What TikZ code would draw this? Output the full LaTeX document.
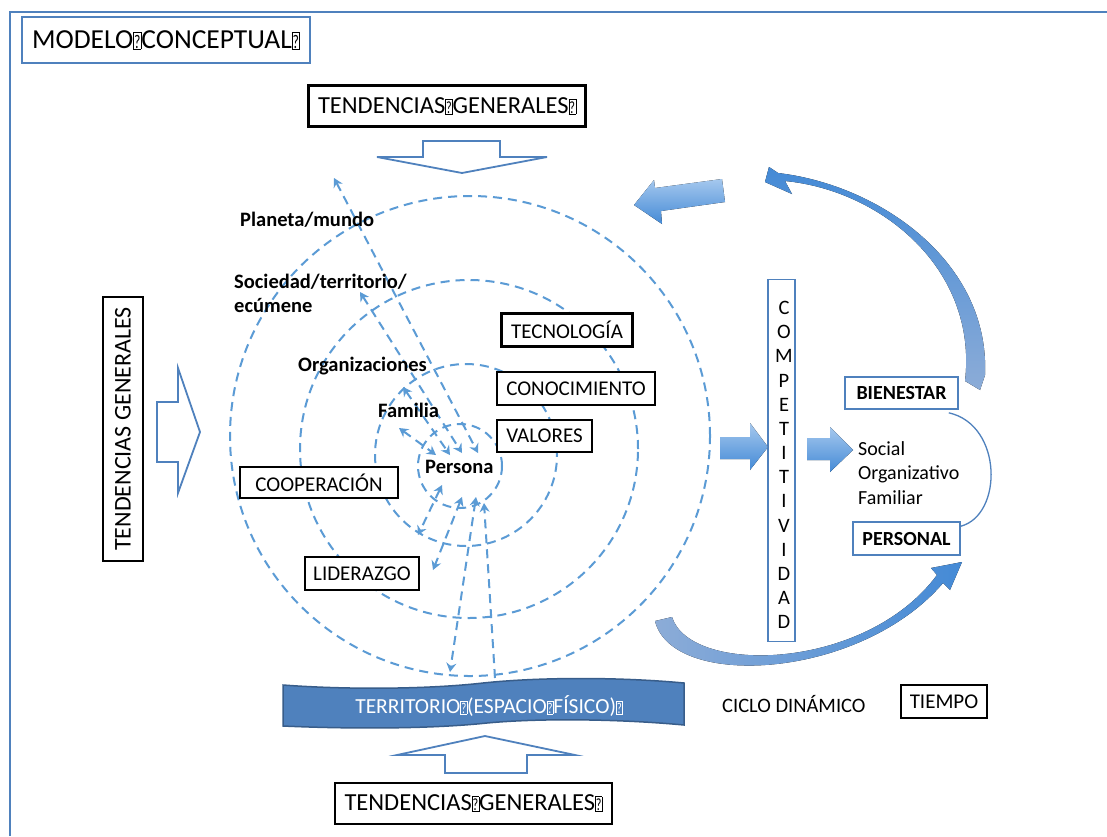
\documentclass[tikz,border=0pt]{standalone}
\usepackage{fontspec}
\usepackage{graphicx}
\setmainfont{Carlito}
\usetikzlibrary{arrows.meta}
\definecolor{dashblue}{RGB}{91,155,213}
\definecolor{frameblue}{RGB}{79,129,189}
\definecolor{terrdraw}{RGB}{56,93,138}
\definecolor{arrlight}{RGB}{165,200,238}
\definecolor{arrdark}{RGB}{68,138,214}
\definecolor{arrgray}{RGB}{140,172,215}
\newcommand{\qb}{{\setlength{\fboxsep}{0.4pt}\setlength{\fboxrule}{0.45pt}\fbox{\rule{0pt}{0.56em}\scalebox{0.5}[0.7]{?}}}}
\begin{document}
\begin{tikzpicture}[x=1pt,y=-1pt,
  bbox/.style={draw=black, line width=2.1pt, fill=white, inner sep=0pt, font=\fontsize{21}{25}\selectfont},
  blbox/.style={draw=frameblue, line width=1.6pt, fill=white, inner sep=0pt},
  lbl/.style={font=\bfseries\fontsize{20.5}{24}\selectfont, inner sep=0pt, anchor=west},
  dl/.style={dashblue, line width=2pt, dash pattern=on 9pt off 6pt},
  tip/.tip={Stealth[length=9pt,width=10pt,inset=3pt]},
  da/.style={dl, tip-tip},
  hollow/.style={draw=frameblue, line width=1.8pt, fill=white, line join=miter},
  blockarr/.style={top color=arrlight, bottom color=arrdark, draw=none}
]
\useasboundingbox (0,0) rectangle (1107,836);
\fill[white] (0,0) rectangle (1107,836);
\draw[frameblue, line width=1.5pt] (10,836) -- (10,12) -- (1107,12);

% title
\node[blbox, line width=2.3pt, minimum width=288pt, minimum height=46pt,
      font=\fontsize{27.5}{31}\selectfont] (title) at (166,40) {MODELO\qb CONCEPTUAL\qb};

% tendencias boxes
\node[bbox, font=\fontsize{24.5}{28}\selectfont, minimum width=277pt, minimum height=41pt] (tgtop) at (447,106) {TENDENCIAS\qb GENERALES\qb};
\node[bbox, font=\fontsize{24}{28}\selectfont, minimum width=264pt, minimum height=40pt, rotate=90] (tgleft) at (123,429) {TENDENCIAS GENERALES};
\node[bbox, font=\fontsize{24.5}{28}\selectfont, minimum width=277pt, minimum height=41pt] (tgbot) at (473.5,803.5) {TENDENCIAS\qb GENERALES\qb};

% hollow arrows
\draw[hollow] (423,141) -- (500,141) -- (500,157) -- (547,157) -- (462,173) -- (377,157) -- (423,157) -- cycle;
\draw[hollow] (157,402) -- (178,402) -- (178,368) -- (200,432) -- (178,493) -- (178,462) -- (157,462) -- cycle;
\draw[hollow] (445,773) -- (527,773) -- (527,755) -- (575,755) -- (485,736) -- (397,755) -- (445,755) -- cycle;

% circles
\draw[dl] (470,436) circle[radius=240pt];
\draw[dl] (469,449) circle[radius=169pt];
\draw[dl] (466,455) circle[radius=91pt];
\draw[dl] (460,466) circle[radius=42pt];

% dashed arrows
\coordinate (a1) at (334,178); \coordinate (b1) at (478,453);
\coordinate (a2) at (360,292); \coordinate (b2) at (462,453);
\coordinate (a3) at (403,387); \coordinate (b3) at (450,455);
\coordinate (a4) at (399,428); \coordinate (b4) at (436,455);
\coordinate (c1) at (442,485); \coordinate (d1) at (418,535);
\coordinate (c2) at (462,497); \coordinate (d2) at (433,570);
\coordinate (c3) at (476,497); \coordinate (d3) at (450,672);
\coordinate (c4) at (484,503); \coordinate (d4) at (495,678);
\draw[da] (a1) -- (b1);
\draw[da] (a2) -- (b2);
\draw[da] (a3) -- (b3);
\draw[da] (a4) -- (b4);
\draw[da] (c1) -- (d1);
\draw[da] (c2) -- (d2);
\draw[da] (c3) -- (d3);
\draw[dl, -tip] (d4) -- (c4);

% level labels
\node[lbl] (planeta) at (240,220) {Planeta/mundo};
\node[lbl, align=left] (sociedad) at (234,293) {Sociedad/territorio/\\ecúmene};
\node[lbl] (org) at (298,366) {Organizaciones};
\node[lbl] (fam) at (378,410) {Familia};
\node[lbl] (persona) at (425,467) {Persona};

% value boxes
\node[bbox, minimum width=131pt, minimum height=33pt] (tec) at (567,330) {TECNOLOGÍA};
\node[bbox, minimum width=158pt, minimum height=33pt] (con) at (576,388.5) {CONOCIMIENTO};
\node[bbox, minimum width=95pt, minimum height=32pt] (val) at (544.5,436) {VALORES};
\node[bbox, minimum width=158pt, minimum height=31pt] (coop) at (319,482.5) {COOPERACIÓN};
\node[bbox, minimum width=114pt, minimum height=33pt] (lid) at (362,573.5) {LIDERAZGO};

% territorio
\path[fill=frameblue, draw=terrdraw, line width=1.5pt]
  (283,685) .. controls (350,690) and (430,689) .. (483,683)
  .. controls (540,677) and (620,677) .. (684,683) -- (684,725)
  .. controls (620,719) and (540,718) .. (487,723)
  .. controls (430,729) and (350,729) .. (283,726) -- cycle;
\node[text=white, font=\fontsize{21.5}{25}\selectfont, inner sep=0pt] (terr) at (489,706) {TERRITORIO\qb(ESPACIO\qb FÍSICO)\qb};

% competitividad
\node[blbox, line width=1.3pt, minimum width=27pt, minimum height=362pt] (comp) at (781.5,460.5) {};
\node[font=\fontsize{20.5}{24.15}\selectfont, align=center, inner sep=0pt] (complet) at (784,465) {C\\O\\M\\P\\E\\T\\I\\T\\I\\V\\I\\D\\A\\D};

% block arrows
\fill[blockarr] (720,437) -- (750,437) -- (750,423) -- (768,447) -- (750,470) -- (750,459) -- (720,459) -- cycle;
\fill[blockarr] (807,438) -- (830,438) -- (830,427) -- (853,450) -- (830,472) -- (830,460) -- (807,460) -- cycle;

% bienestar / personal
\node[blbox, font=\bfseries\fontsize{20}{23}\selectfont, minimum width=113pt, minimum height=32pt] (bien) at (901.5,393) {BIENESTAR};
\node[blbox, font=\bfseries\fontsize{20}{23}\selectfont, minimum width=107pt, minimum height=33pt] (pers) at (906.5,538.5) {PERSONAL};
\node[anchor=north west, align=left, font=\fontsize{20}{24.5}\selectfont, inner sep=0pt] (soc) at (858,441) {Social\\Organizativo\\Familiar};
\draw[frameblue, line width=1.3pt] ([xshift=-10pt,yshift=-3pt]bien.south east) .. controls (1003,425) and (1003,515) .. ([yshift=-5pt]pers.north east);

% big curved arrows
\fill[top color=arrlight, bottom color=arrdark] (722,179) -- (725,202) -- (661,211) -- (662,224) -- (634,205) -- (654,180) -- (655,188) -- cycle;
\fill[top color=arrdark, bottom color=arrgray]
  (778,173) .. controls (880,185) and (990,262) .. (985,375) -- (980,390) -- (965,381)
  .. controls (978,268) and (880,190) .. (785,181) -- (792,194) -- (765,182) -- (769,167) -- cycle;
\fill[left color=arrgray, right color=arrdark]
  (655,621) .. controls (672,690) and (860,680) .. (943,583) -- (950,590) -- (962,562) -- (931,568) -- (937,575)
  .. controls (865,672) and (690,675) .. (672,617) -- cycle;

% ciclo / tiempo
\node[anchor=west, font=\fontsize{20.5}{24}\selectfont, inner sep=0pt] (ciclo) at (722,704) {CICLO DINÁMICO};
\node[bbox, minimum width=86pt, minimum height=33pt] (tiempo) at (944,701.5) {TIEMPO};
\end{tikzpicture}
\end{document}
